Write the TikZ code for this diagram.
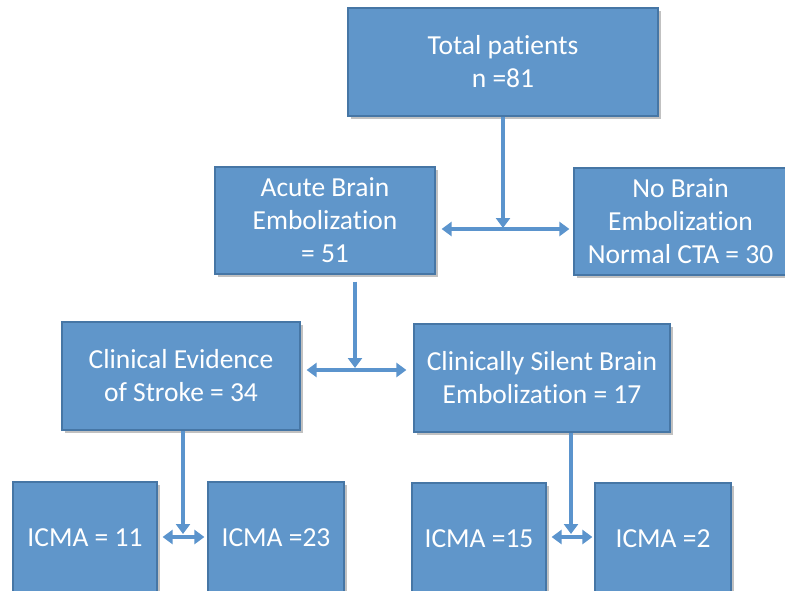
\documentclass[tikz,border=0pt]{standalone}
\usepackage{fontspec}
\setmainfont[Ligatures={NoCommon}]{Carlito}
\usetikzlibrary{arrows.meta,shadows,calc}
\definecolor{boxfill}{RGB}{96,150,202}
\definecolor{boxline}{RGB}{70,118,165}
\definecolor{arrcol}{RGB}{91,148,205}
\begin{document}
\begin{tikzpicture}[x=1pt,y=-1pt,
  box/.style={draw=boxline,line width=1.2pt,fill=boxfill,text=white,align=center,
    inner sep=0pt,font=\fontsize{27.5}{33}\selectfont,
    drop shadow={shadow xshift=2.5pt,shadow yshift=-2.5pt,opacity=0.35,fill=black!70}},
  arr/.style={draw=arrcol,line width=3.5pt,-{Triangle[length=10pt,width=14pt]}},
  dbl/.style={draw=arrcol,line width=3.5pt,{Triangle[length=10pt,width=14pt]}-{Triangle[length=10pt,width=14pt]}}]
\useasboundingbox (0,0) rectangle (785,590);
\begin{scope}
\clip (0,0) rectangle (785,590);
\node[box,minimum width=310pt,minimum height=108pt] (total) at (503,62) {Total patients\\n =81};
\node[box,minimum width=220pt,minimum height=107pt] (acute) at (325,220.5) {Acute Brain\\Embolization\\= 51};
\node[box,minimum width=213pt,minimum height=107pt] (nobrain) at (680.5,221.5) {No Brain\\Embolization\\Normal CTA = 30};
\node[box,minimum width=238pt,minimum height=108pt] (clin) at (181,376) {Clinical Evidence\\of Stroke = 34};
\node[box,minimum width=256pt,minimum height=108pt] (silent) at (542,378) {Clinically Silent Brain\\Embolization = 17};
\node[box,minimum width=144pt,minimum height=112pt] (i11) at (85,538) {ICMA = 11};
\node[box,minimum width=136pt,minimum height=112pt] (i23) at (276,538) {ICMA =23};
\node[box,minimum width=134pt,minimum height=112pt] (i15) at (479,539) {ICMA =15};
\node[box,minimum width=136pt,minimum height=112pt] (i2) at (663,539) {ICMA =2};
\end{scope}
\coordinate (j1) at (503,229);
\coordinate (j2) at (355,370);
\coordinate (j3) at (183,537);
\coordinate (j4) at (571,537);
\draw[arr] (total.south) -- ($(j1)+(0,-1)$);
\draw[dbl] ($(acute.east |- j1)+(6,0)$) -- ($(nobrain.west |- j1)+(-4,0)$);
\draw[arr] ($(acute.south -| j2)+(0,7)$) -- ($(j2)+(0,-2)$);
\draw[dbl] ($(clin.east |- j2)+(6,0)$) -- ($(silent.west |- j2)+(-7,0)$);
\draw[arr] (clin.south -| j3) -- ($(j3)+(0,-3)$);
\draw[dbl] ($(i11.east |- j3)+(5,0)$) -- ($(i23.west |- j3)+(-3,0)$);
\draw[arr] (silent.south -| j4) -- ($(j4)+(0,-3)$);
\draw[dbl] ($(i15.east |- j4)+(5,0)$) -- ($(i2.west |- j4)+(-2,0)$);
\end{tikzpicture}
\end{document}
